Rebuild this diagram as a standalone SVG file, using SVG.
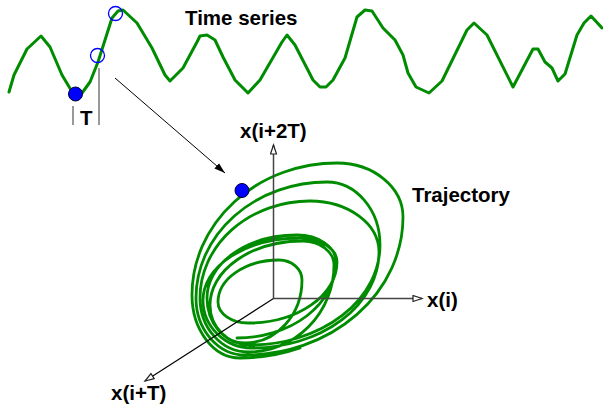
<svg xmlns="http://www.w3.org/2000/svg" width="603" height="406" viewBox="0 0 603 406">
<style>
  .lbl { font-family: "Liberation Sans", Arial, sans-serif; font-weight: bold; font-size: 20.5px; fill: #000; }
  .green { fill: none; stroke: #008c00; stroke-linejoin: round; stroke-linecap: round; }
  .axis { stroke: #444; stroke-width: 1.5; fill: none; }
  .tick { stroke: #555; stroke-width: 1.2; fill: none; }
  .dot { fill: #0000ff; stroke: #000033; stroke-width: 1; }
  .ring { fill: none; stroke: #0000ff; stroke-width: 1.3; }
</style>
<defs>
  <marker id="arrFill" markerUnits="userSpaceOnUse" markerWidth="12" markerHeight="8" refX="11" refY="4" orient="auto">
    <path d="M0,0.5 L11,4 L0,7.5 z" fill="#000"/>
  </marker>
  <marker id="arrOpen" markerUnits="userSpaceOnUse" markerWidth="12" markerHeight="10" refX="10" refY="4" orient="auto">
    <path d="M1,1 L10,4 L1,7 z" fill="#fff" stroke="#222" stroke-width="1.2"/>
  </marker>
</defs>

<g id="time-series">
  <polyline class="green" stroke-width="3" points="9,92 14,75 27,49 41,36 50,47 62,75 71,90 76,93 82,93 90,82 98,62 105,40 112,18 118,11 123,10 137,23 152,48 165,75 170,81 183,68 197,42 200,36 207,35 215,40 223,57 235,80 248,93 260,80 282,42 287,35 295,45 313,80 320,87 326,87 333,80 345,58 357,17 365,10 372,11 383,28 395,40 403,55 408,73 416,87 429,93 442,81 467,30 474,23 487,35 513,87 533,49 538,49 545,62 552,68 558,81 565,74 577,35 584,23 591,16 602,28"/>
  <circle class="dot" cx="75.5" cy="94" r="7"/>
  <circle class="ring" cx="97.5" cy="55.5" r="7"/>
  <circle class="ring" cx="115.5" cy="13.5" r="7"/>
  <line class="tick" x1="73" y1="106" x2="73" y2="125"/>
  <line class="tick" x1="99" y1="68" x2="99" y2="125"/>
  <text class="lbl" x="80" y="125">T</text>
  <text class="lbl" x="185" y="25">Time series</text>
</g>

<g id="connectors">
  <line x1="115" y1="78" x2="225" y2="173" stroke="#000" stroke-width="1" marker-end="url(#arrFill)"/>
</g>

<g id="trajectory">
  <path class="green" stroke-width="2.8" d="M237,338
    A99,76 0 0 0 336,262 A39,27 0 0 0 297,235 A90,63 0 0 0 207,298 A38,45 0 0 0 245,343
    A57,63 0 0 0 302,280 A23,20 0 0 0 279,260 A61,42 0 0 0 218,302 A30,21 0 0 0 248,323
    A89,61 0 0 0 337,262 A37,24 0 0 0 300,238 A97,62 0 0 0 203,300 A49,48 0 0 0 252,348
    A127,96 0 0 0 379,252 A69,51 0 0 0 310,201 A110,97 0 0 0 200,298 A48,54 0 0 0 248,352
    A86,87 0 0 0 334,265 A31,24 0 0 0 303,241 A93,64 0 0 0 210,305 A40,40 0 0 0 250,345
    A130,100 0 0 0 380,245 A53,63 0 0 0 327,182 A131,116 0 0 0 196,298 A49,57 0 0 0 245,355
    A158,138 0 0 0 403,217 A66,54 0 0 0 337,163 A145,132 0 0 0 192,295 A48,63 0 0 0 240,358
    A163,141 0 0 0 300,348"/>
  <circle class="dot" cx="242" cy="190.5" r="7"/>
  <text class="lbl" x="412" y="202">Trajectory</text>
</g>

<g id="axes">
  <line class="axis" x1="273.5" y1="298.5" x2="273.5" y2="145" marker-end="url(#arrOpen)"/>
  <line class="axis" x1="273.5" y1="298.5" x2="422" y2="298.5" marker-end="url(#arrOpen)"/>
  <line x1="273.5" y1="298.5" x2="145" y2="381" stroke="#000" stroke-width="1.1" marker-end="url(#arrOpen)"/>
</g>

<g id="label-x2T"><text class="lbl" x="240" y="138">x(i+2T)</text></g>
<g id="label-xi"><text class="lbl" x="427" y="307">x(i)</text></g>
<g id="label-xT"><text class="lbl" x="111" y="400">x(i+T)</text></g>
</svg>
